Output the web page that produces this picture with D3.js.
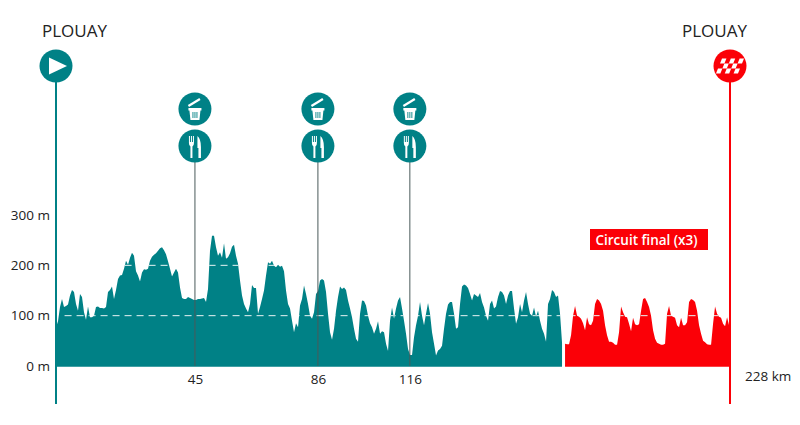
<!DOCTYPE html>
<html lang="en">

<head>
    <meta charset="utf-8">
    <title>Plouay</title>
    <script src="https://d3js.org/d3.v7.min.js"></script>
    <style>
        html, body { margin: 0; background: #fff; }
        text { font-family: "Open Sans", sans-serif; fill: #222; }
    </style>
</head>

<body>
    <script type="text/javascript">

        var w = 800;
        var h = 425;

        // elevation in metres, every kmStep km
        var kmStep = 0.6766;
        var circuitStartKm = 172.2;
        var totalKm = 228;

        var mainElevation = [
            77, 89, 117, 133, 117, 119, 122, 140, 151, 147, 123, 110, 143, 137, 107, 92, 118, 97, 97, 100,
            117, 118, 115, 115, 114, 117, 147, 151, 158, 133, 151, 173, 180, 181, 193, 209, 201, 215, 225, 219,
            188, 180, 168, 186, 192, 191, 193, 209, 217, 221, 224, 229, 234, 236, 230, 222, 208, 193, 178, 186,
            193, 186, 156, 135, 133, 133, 137, 135, 133, 131, 131, 133, 133, 134, 135, 127, 153, 229, 259, 259,
            236, 219, 226, 215, 244, 213, 216, 224, 237, 241, 219, 203, 170, 140, 123, 114, 107, 123, 161, 155,
            155, 104, 117, 133, 150, 180, 206, 203, 209, 199, 196, 201, 197, 199, 188, 150, 123, 114, 90, 67,
            85, 77, 120, 133, 160, 143, 123, 100, 94, 107, 143, 149, 170, 173, 170, 147, 104, 67, 52, 74,
            110, 137, 158, 153, 156, 151, 130, 114, 97, 74, 54, 48, 104, 130, 129, 120, 100, 85, 77, 64,
            74, 89, 64, 69, 67, 44, 30, 90, 116, 94, 114, 130, 137, 114, 90, 64, 34, 22, 22, 57,
            81, 100, 127, 100, 81, 104, 125, 104, 67, 44, 21, 31, 34, 40, 74, 104, 122, 127, 127, 104,
            74, 77, 123, 158, 162, 160, 155, 143, 130, 143, 140, 137, 145, 127, 116, 100, 90, 123, 130, 114,
            118, 137, 149, 147, 140, 123, 140, 149, 149, 114, 84, 97, 123, 107, 130, 147, 123, 104, 100, 116,
            98, 110, 90, 74, 64, 48, 123, 133, 151, 147, 137, 140, 104, 46
        ];

        var circuitElevation = [
            44, 43, 43, 61, 100, 119, 100, 98, 94, 85, 71, 97, 83, 81, 90, 123, 133, 130, 123, 110,
            81, 61, 48, 48, 46, 42, 42, 67, 118, 107, 98, 97, 84, 69, 96, 83, 81, 83, 110, 133,
            135, 127, 117, 100, 71, 54, 46, 44, 42, 42, 44, 104, 119, 100, 98, 96, 81, 77, 96, 81,
            81, 87, 127, 133, 131, 127, 110, 81, 64, 50, 47, 43, 42, 42, 84, 118, 104, 98, 96, 84,
            79, 97, 81
        ];

        var elevationTicks = [0, 100, 200, 300];
        var gridLevels = [100, 200];

        // km positions on the drawn axis and the labels printed under them
        var stopKm = [47, 88.6, 119.7];
        var stopLabels = ["45", "86", "116"];

        var startName = "PLOUAY";
        var finishName = "PLOUAY";
        var circuitLabel = "Circuit final (x3)";

        var teal = "#008186";
        var red = "#fb0007";

        var x = d3.scaleLinear().domain([0, totalKm]).range([56, 730]);
        var y = d3.scaleLinear().domain([0, 300]).range([366, 215]);

        var svg = d3.select("body")
            .append("svg")
            .attr("width", w)
            .attr("height", h)
            .style("display", "block");

        var area = d3.area()
            .x(function (d) { return x(d.km); })
            .y0(y(0))
            .y1(function (d) { return y(d.m); });

        var mainData = mainElevation.map(function (m, i) { return { km: i * kmStep, m: m }; });
        var circuitData = circuitElevation.map(function (m, i) { return { km: circuitStartKm + i * kmStep, m: m }; });

        var defs = svg.append("defs");
        var clip = defs.append("clipPath").attr("id", "profile-clip");
        clip.append("path").attr("d", area(mainData));
        clip.append("path").attr("d", area(circuitData));

        svg.append("path").attr("d", area(mainData)).attr("fill", teal);
        svg.append("path").attr("d", area(circuitData)).attr("fill", red);

        // white dashes only show inside the profile
        svg.append("g")
            .attr("clip-path", "url(#profile-clip)")
            .selectAll("line")
            .data(gridLevels)
            .enter()
            .append("line")
            .attr("x1", x(2.9))
            .attr("x2", x(totalKm))
            .attr("y1", function (d) { return y(d); })
            .attr("y2", function (d) { return y(d); })
            .attr("stroke", "#e8f4f4")
            .attr("stroke-width", 1)
            .attr("stroke-dasharray", "7,5");

        // base lines
        svg.append("line")
            .attr("x1", x(0)).attr("x2", x(mainData[mainData.length - 1].km))
            .attr("y1", y(0)).attr("y2", y(0))
            .attr("stroke", teal).attr("stroke-width", 1.5);
        svg.append("line")
            .attr("x1", x(circuitStartKm)).attr("x2", x(totalKm))
            .attr("y1", y(0)).attr("y2", y(0))
            .attr("stroke", red).attr("stroke-width", 1.5);

        var yAxis = d3.axisLeft(y)
            .tickValues(elevationTicks)
            .tickSize(0)
            .tickPadding(0)
            .tickFormat(function (d) { return d + " m"; });

        var yG = svg.append("g").attr("transform", "translate(50,0)").call(yAxis);
        yG.select(".domain").remove();
        yG.selectAll("text").style("font-size", "13.5px").style("font-family", '"Open Sans", sans-serif').attr("fill", "#222");

        var xAxis = d3.axisBottom(x)
            .tickValues(stopKm)
            .tickSize(0)
            .tickPadding(8)
            .tickFormat(function (d, i) { return stopLabels[i]; });

        var xG = svg.append("g").attr("transform", "translate(0," + y(0) + ")").call(xAxis);
        xG.select(".domain").remove();
        xG.selectAll("text").style("font-size", "13.5px").style("font-family", '"Open Sans", sans-serif').attr("fill", "#222");

        svg.append("text")
            .attr("x", 745)
            .attr("y", 381)
            .style("font-size", "13.5px")
            .text(totalKm + " km");

        // stop lines
        svg.selectAll("line.stop")
            .data(stopKm)
            .enter()
            .append("line")
            .attr("class", "stop")
            .attr("x1", function (d) { return x(d); })
            .attr("x2", function (d) { return x(d); })
            .attr("y1", 160)
            .attr("y2", y(0))
            .attr("stroke", "#4a5a5a")
            .attr("stroke-width", 1);

        // start and finish poles
        svg.append("line")
            .attr("x1", x(0)).attr("x2", x(0)).attr("y1", 80).attr("y2", 404)
            .attr("stroke", teal).attr("stroke-width", 2);
        svg.append("line")
            .attr("x1", x(totalKm)).attr("x2", x(totalKm)).attr("y1", 80).attr("y2", 404)
            .attr("stroke", red).attr("stroke-width", 2);

        svg.append("text")
            .attr("x", 74.5).attr("y", 37)
            .attr("text-anchor", "middle")
            .style("font-size", "17px")
            .text(startName);
        svg.append("text")
            .attr("x", 714.5).attr("y", 37)
            .attr("text-anchor", "middle")
            .style("font-size", "17px")
            .text(finishName);

        // start badge
        var startBadge = svg.append("g").attr("transform", "translate(" + x(0) + ",66)");
        startBadge.append("circle").attr("r", 16.5).attr("fill", teal);
        startBadge.append("path").attr("d", "M-7,-8.5L11,0L-7,8.5Z").attr("fill", "#fff");

        // finish badge with the chequered flag
        var finishBadge = svg.append("g").attr("transform", "translate(" + x(totalKm) + ",66)");
        finishBadge.append("circle").attr("r", 16.5).attr("fill", red);
        var flag = finishBadge.append("g").attr("transform", "skewX(-22)");
        d3.range(3).forEach(function (row) {
            d3.range(5).forEach(function (col) {
                if ((row + col) % 2 === 0) {
                    flag.append("rect")
                        .attr("x", -11 + col * 4.4)
                        .attr("y", -7.5 + row * 5)
                        .attr("width", 4.4)
                        .attr("height", 5)
                        .attr("fill", "#fff");
                }
            });
        });

        // bin and cutlery badges above each stop
        var badges = svg.selectAll("g.badge")
            .data(stopKm)
            .enter()
            .append("g")
            .attr("class", "badge")
            .attr("transform", function (d) { return "translate(" + x(d) + ",0)"; });

        var bin = badges.append("g").attr("transform", "translate(0,109)");
        bin.append("circle").attr("r", 16.5).attr("fill", teal);
        bin.append("path").attr("d", "M-6.5,-3L5,-10").attr("stroke", "#fff").attr("stroke-width", 2.2).attr("fill", "none");
        bin.append("path").attr("d", "M-6.5,-1H6.5V1.5H5.5L4.5,11H-4.5L-5.5,1.5H-6.5Z").attr("fill", "#fff");
        bin.append("path").attr("d", "M-2,3V9M0,3V9M2,3V9").attr("stroke", teal).attr("stroke-width", 0.9);

        var food = badges.append("g").attr("transform", "translate(0,146)");
        food.append("circle").attr("r", 16.5).attr("fill", teal);
        food.append("path").attr("d", "M-6,-10H-5V-4H-4V-10H-3V-4H-2V-10H-1V-3Q-1,0 -2.5,0.5V12H-4.5V0.5Q-6,0 -6,-3Z").attr("fill", "#fff");
        food.append("path").attr("d", "M2.5,-10Q6,-7 6,1V12H3.5V2H2.5Z").attr("fill", "#fff");

        // circuit tag
        svg.append("rect")
            .attr("x", 590).attr("y", 229)
            .attr("width", 118).attr("height", 21)
            .attr("fill", red);
        svg.append("text")
            .attr("x", 646.5).attr("y", 244.5)
            .attr("text-anchor", "middle")
            .style("font-size", "13.5px")
            .style("font-weight", "600")
            .style("fill", "#fff")
            .text(circuitLabel);

    </script>
</body>

</html>
